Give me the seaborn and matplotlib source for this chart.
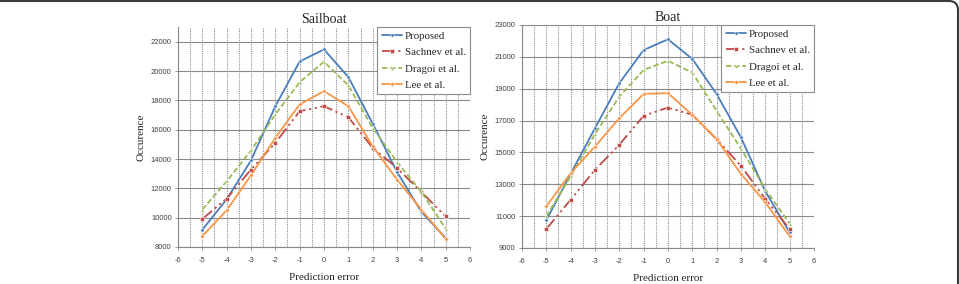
"""Recreates the Sailboat / Boat prediction-error occurrence curves."""

import matplotlib

matplotlib.use("Agg")

import matplotlib.pyplot as plt
import pandas as pd
import seaborn as sns
from matplotlib.patches import FancyBboxPatch
from matplotlib.ticker import MultipleLocator

prediction_error = [-5, -4, -3, -2, -1, 0, 1, 2, 3, 4, 5]
methods = ["Proposed", "Sachnev et al.", "Dragoi et al.", "Lee et al."]

# Sailboat occurrences
sailboat_proposed = [9180, 11250, 13900, 17600, 20650, 21470, 19590, 16420, 13120, 10400, 8610]
sailboat_sachnev = [9910, 11300, 13280, 15100, 17260, 17600, 16850, 14760, 13390, 11750, 10090]
sailboat_dragoi = [10550, 12480, 14580, 17040, 19240, 20630, 19020, 16130, 13800, 11760, 9250]
sailboat_lee = [8730, 10500, 12890, 15440, 17720, 18630, 17600, 14870, 12600, 10550, 8550]

# Boat occurrences
boat_proposed = [10740, 13660, 16520, 19350, 21430, 22100, 20870, 18660, 15940, 12550, 9980]
boat_sachnev = [10190, 12030, 13910, 15480, 17300, 17820, 17360, 15830, 14160, 12070, 10190]
boat_dragoi = [10990, 13490, 16150, 18510, 20180, 20750, 20010, 17610, 15230, 12700, 10530]
boat_lee = [11610, 13700, 15370, 17150, 18680, 18720, 17360, 15830, 13640, 11860, 9730]

panels = [
    ("Sailboat", [sailboat_proposed, sailboat_sachnev, sailboat_dragoi, sailboat_lee], (8000, 23000), range(8000, 22001, 2000)),
    ("Boat", [boat_proposed, boat_sachnev, boat_dragoi, boat_lee], (9000, 23000), range(9000, 23001, 2000)),
]

palette = {
    "Proposed": "#4a7ebb",
    "Sachnev et al.": "#be4b48",
    "Dragoi et al.": "#98b954",
    "Lee et al.": "#f79646",
}
dashes = {
    "Proposed": "",
    "Sachnev et al.": (7, 2, 1.2, 2, 1.2, 2),
    "Dragoi et al.": (3, 1.5),
    "Lee et al.": "",
}
markers = {"Proposed": "o", "Sachnev et al.": "s", "Dragoi et al.": "^", "Lee et al.": "D"}

serif = ["Liberation Serif", "DejaVu Serif"]

sns.set_theme(style="white")
plt.rcParams["font.family"] = ["Liberation Sans", "DejaVu Sans"]
plt.rcParams["axes.unicode_minus"] = False

fig = plt.figure(figsize=(9.59, 2.84), dpi=100)
axes_positions = [
    [0.1856, 0.1303, 0.3045, 0.7746],
    [0.5443, 0.1268, 0.3045, 0.7852],
]

for (title, series, ylim, yticks), pos in zip(panels, axes_positions):
    ax = fig.add_axes(pos)
    frame = pd.DataFrame(
        {
            "Prediction error": prediction_error * len(methods),
            "Occurence": [v for values in series for v in values],
            "Method": [m for m in methods for _ in prediction_error],
        }
    )
    sns.lineplot(
        data=frame,
        x="Prediction error",
        y="Occurence",
        hue="Method",
        style="Method",
        palette=palette,
        dashes=dashes,
        markers=markers,
        markersize=2.5,
        markeredgewidth=0.4,
        linewidth=1.3,
        ax=ax,
    )

    ax.set_xlim(-6, 6)
    ax.set_ylim(*ylim)
    ax.xaxis.set_major_locator(MultipleLocator(1))
    ax.xaxis.set_minor_locator(MultipleLocator(0.5))
    ax.set_yticks(list(yticks))
    ax.grid(axis="y", which="major", color="#8a8a8a", linewidth=0.8)
    ax.grid(axis="x", which="both", color="#8e8e8e", linewidth=0.8, linestyle=(0, (1, 1)))
    ax.set_axisbelow(True)
    for side in ["top", "right"]:
        ax.spines[side].set_visible(False)
    for side in ["left", "bottom"]:
        ax.spines[side].set_color("#888888")
        ax.spines[side].set_linewidth(0.8)
    ax.tick_params(axis="both", which="major", labelsize=5.5, labelcolor="#404040",
                   length=2.5, width=0.6, color="#888888", bottom=True, left=True, pad=2)
    ax.tick_params(axis="x", which="major", pad=5)

    ax.set_title(title, fontsize=10, family=serif, color="#262626", pad=3)
    ax.set_xlabel("Prediction error", fontsize=8, family=serif, color="#262626", labelpad=6)
    ax.set_ylabel("Occurence", fontsize=8, family=serif, color="#262626", labelpad=4)

    sns.move_legend(
        ax,
        "upper right",
        title=None,
        frameon=True,
        fancybox=False,
        borderaxespad=0,
        handlelength=1.9,
        handletextpad=0.2,
        labelspacing=0.62,
        borderpad=0.4,
        prop={"family": serif, "size": 7.8},
    )
    legend = ax.get_legend()
    legend.get_frame().set_edgecolor("#8a8a8a")
    legend.get_frame().set_linewidth(0.8)
    legend.get_frame().set_alpha(1)

# Rounded frame from the source page, only top and right edges are inside the crop
fig.patches.append(
    FancyBboxPatch(
        (-30, -30), 988, 313,
        boxstyle="round,pad=0,rounding_size=9",
        transform=None,
        facecolor="none",
        edgecolor="#3a3a3a",
        linewidth=1.5,
    )
)

fig.savefig("out.png", dpi=100)
plt.close(fig)
